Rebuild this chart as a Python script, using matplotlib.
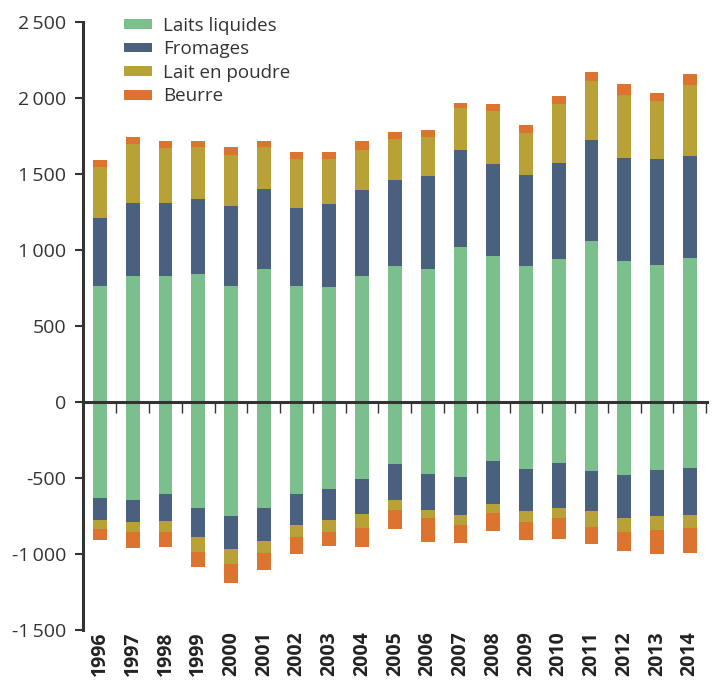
"""Stacked trade balance bars by dairy product, 1996-2014 (exports up, imports down)."""
import matplotlib.pyplot as plt
import numpy as np
from matplotlib.ticker import FuncFormatter, FixedLocator

plt.rcParams["font.family"] = ["Open Sans", "DejaVu Sans"]

years = list(range(1996, 2015))
series = ["Laits liquides", "Fromages", "Lait en poudre", "Beurre"]
colors = ["#7bbf8d", "#4a607f", "#b8a137", "#dc742f"]

# exports (positive), segment heights
laits_pos = [763, 831, 831, 842, 766, 877, 762, 757, 827, 893,
             873, 1022, 959, 897, 939, 1059, 930, 900, 949]
fromages_pos = [445, 476, 480, 495, 521, 522, 516, 547, 569, 565,
                615, 633, 610, 597, 634, 665, 676, 696, 670]
poudre_pos = [337, 391, 357, 341, 341, 279, 324, 298, 265, 273,
              254, 277, 344, 276, 386, 390, 414, 384, 466]
beurre_pos = [46, 44, 48, 38, 50, 38, 41, 41, 55, 44,
              48, 33, 50, 51, 57, 55, 70, 55, 75]

# imports (negative), segment heights
laits_neg = [-632, -643, -604, -694, -749, -699, -604, -569, -504, -405,
             -475, -495, -387, -440, -399, -453, -477, -447, -433]
fromages_neg = [-141, -149, -182, -197, -216, -218, -208, -206, -231, -241,
                -237, -247, -281, -280, -297, -267, -283, -300, -309]
poudre_neg = [-65, -60, -70, -94, -103, -77, -79, -77, -95, -63,
              -54, -64, -59, -70, -70, -105, -98, -96, -90]
beurre_neg = [-68, -107, -99, -103, -125, -112, -107, -96, -127, -129,
              -158, -122, -120, -119, -138, -107, -125, -160, -162]

pos = [laits_pos, fromages_pos, poudre_pos, beurre_pos]
neg = [laits_neg, fromages_neg, poudre_neg, beurre_neg]

fig = plt.figure(figsize=(7.19, 6.8), dpi=100)
ax = fig.add_axes([0.1154, 0.0735, 0.983 - 0.1154, 0.9676 - 0.0735])

x = np.arange(len(years))
w = 0.42
bot_p = np.zeros(len(years))
bot_n = np.zeros(len(years))
for name, c, vp, vn in zip(series, colors, pos, neg):
    ax.bar(x, vp, w, bottom=bot_p, color=c, label=name, linewidth=0, zorder=2)
    ax.bar(x, vn, w, bottom=bot_n, color=c, linewidth=0, zorder=2)
    bot_p += np.array(vp)
    bot_n += np.array(vn)

ax.set_xlim(-0.52, 18.52)
ax.set_ylim(-1500, 2500)
ax.set_yticks(np.arange(-1500, 2501, 500))
ax.yaxis.set_major_formatter(FuncFormatter(
    lambda v, p: f"{int(v):,}".replace(",", "\u2009")))
ax.tick_params(axis="y", length=6, width=1.5, color="#333333",
               labelsize=14, labelcolor="#333333", pad=6)

for s in ["top", "right"]:
    ax.spines[s].set_visible(False)
ax.spines["left"].set_linewidth(2.2)
ax.spines["left"].set_color("#333333")
ax.spines["bottom"].set_position(("data", 0))
ax.spines["bottom"].set_linewidth(2.2)
ax.spines["bottom"].set_color("#333333")
ax.spines["bottom"].set_zorder(3)
ax.set_xticks([])
ax.xaxis.set_minor_locator(FixedLocator(x + 0.5))
ax.tick_params(axis="x", which="minor", length=8, width=1, color="#333333",
               direction="out")

# year labels along the bottom
sec = ax.secondary_xaxis("bottom")
sec.spines["bottom"].set_visible(False)
sec.set_xticks(x)
sec.set_xticklabels([str(y) for y in years], rotation=90,
                    fontsize=14, fontweight="bold", color="#222222")
sec.tick_params(length=0, pad=1)

ax.legend(loc="upper left", bbox_to_anchor=(0.0657, 1.009), frameon=False,
          fontsize=13.5, handlelength=1.5, handleheight=0.42,
          labelspacing=0.3, handletextpad=0.6, borderpad=0,
          borderaxespad=0, labelcolor="#333333")

plt.savefig("out.png", dpi=100)
plt.close()
